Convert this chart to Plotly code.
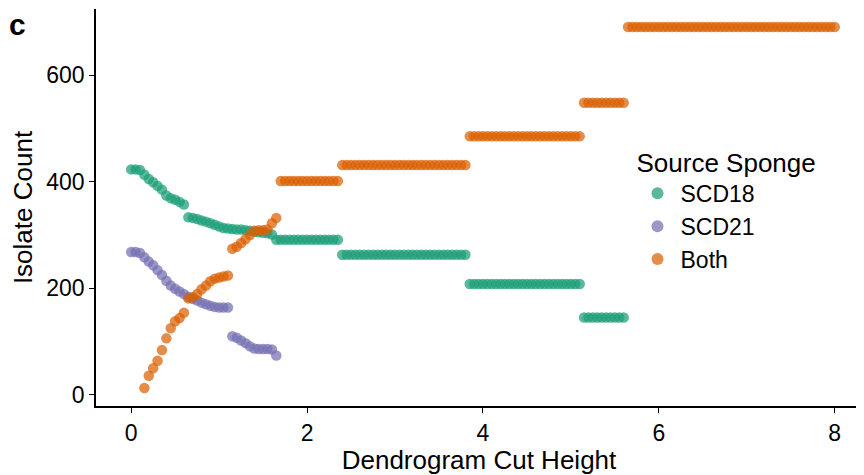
import numpy as np
import plotly.graph_objects as go

# Cut heights (grid of dendrogram cut heights, step 0.05 from 0 to 8)
cut_height = [round(0.05 * i, 2) for i in range(161)]

# SCD18 counts (index-aligned with cut_height; None = not present)
scd18_head = [423, 423, 422, 413, 405, 399, 392, 385, 374, 369, 366, 362, 357,
              333, 332, 330, 327, 325, 322, 319, 316, 313, 312, 311, 310, 310,
              309, 308, 306, 305, 304, 303, 301]
scd18_runs = [(291, 15), (263, 29), (208, 26), (145, 10)]

scd21_head = [268, 268, 266, 258, 250, 243, 234, 225, 214, 205, 199, 194, 189,
              184, 180, 177, 173, 170, 167, 165, 164, 164, 164,
              110, 107, 102, 97, 91, 87, 86, 86, 86, 85, 74]

both_head = [None, None, None, 13, 36, 50, 64, 84, 106, 125, 138, 144, 154,
             181, 183, 189, 198, 205, 213, 218, 220, 222, 224,
             274, 278, 285, 292, 300, 308, 309, 309, 310, 322, 332]
both_runs = [(401, 14), (431, 29), (485, 26), (548, 10), (690, 48)]

series_names = ["SCD18", "SCD21", "Both"]
series_colors = ["#1B9E77", "#7570B3", "#D95F02"]


def expand(head, runs):
    vals = list(head)
    for v, n in runs:
        vals.extend([v] * n)
    vals.extend([None] * (len(cut_height) - len(vals)))
    return vals


scd18 = expand(scd18_head, scd18_runs)
scd21 = expand(scd21_head, [])
both = expand(both_head, both_runs)

FONT = "Liberation Sans, Arial, Helvetica, sans-serif"
fig = go.Figure()
for name, vals, col in zip(series_names, [scd18, scd21, both], series_colors):
    xs = [x for x, v in zip(cut_height, vals) if v is not None]
    ys = [v for v in vals if v is not None]
    fig.add_trace(go.Scatter(
        x=xs, y=ys, mode="markers", name=name,
        marker=dict(color=col, size=10.5, opacity=0.72, line=dict(width=0)),
    ))

axis_common = dict(
    showline=True, linecolor="black", linewidth=1.8, mirror=False,
    ticks="outside", ticklen=5, tickwidth=1.3, tickcolor="black",
    showgrid=False, zeroline=False,
    tickfont=dict(family=FONT, size=23, color="black"),
)

fig.update_layout(
    width=856, height=467,
    margin=dict(l=88, r=2, t=1, b=69),
    paper_bgcolor="white", plot_bgcolor="white",
    font=dict(family=FONT, color="black"),
    xaxis=dict(range=[-0.4, 8.31], tickvals=[0, 2, 4, 6, 8],
               title=dict(text="Dendrogram Cut Height",
                          font=dict(family=FONT, size=26), standoff=4),
               **axis_common),
    yaxis=dict(range=[-20.9, 723.9], tickvals=[0, 200, 400, 600],
               title=dict(text="Isolate Count",
                          font=dict(family=FONT, size=26), standoff=6),
               **axis_common),
    legend=dict(
        x=0.703, y=0.675, xanchor="left", yanchor="top",
        bgcolor="rgba(0,0,0,0)",
        title=dict(text="Source Sponge", font=dict(family=FONT, size=26)),
        font=dict(family=FONT, size=23),
        itemsizing="constant", itemwidth=36, tracegroupgap=0,
    ),
    showlegend=True,
)

fig.add_annotation(
    text="<b>c</b>", xref="paper", yref="paper", x=-0.102, y=0.96,
    showarrow=False, font=dict(family=FONT, size=30, color="black"),
    xanchor="center", yanchor="middle",
)

fig.write_html("out.html")
